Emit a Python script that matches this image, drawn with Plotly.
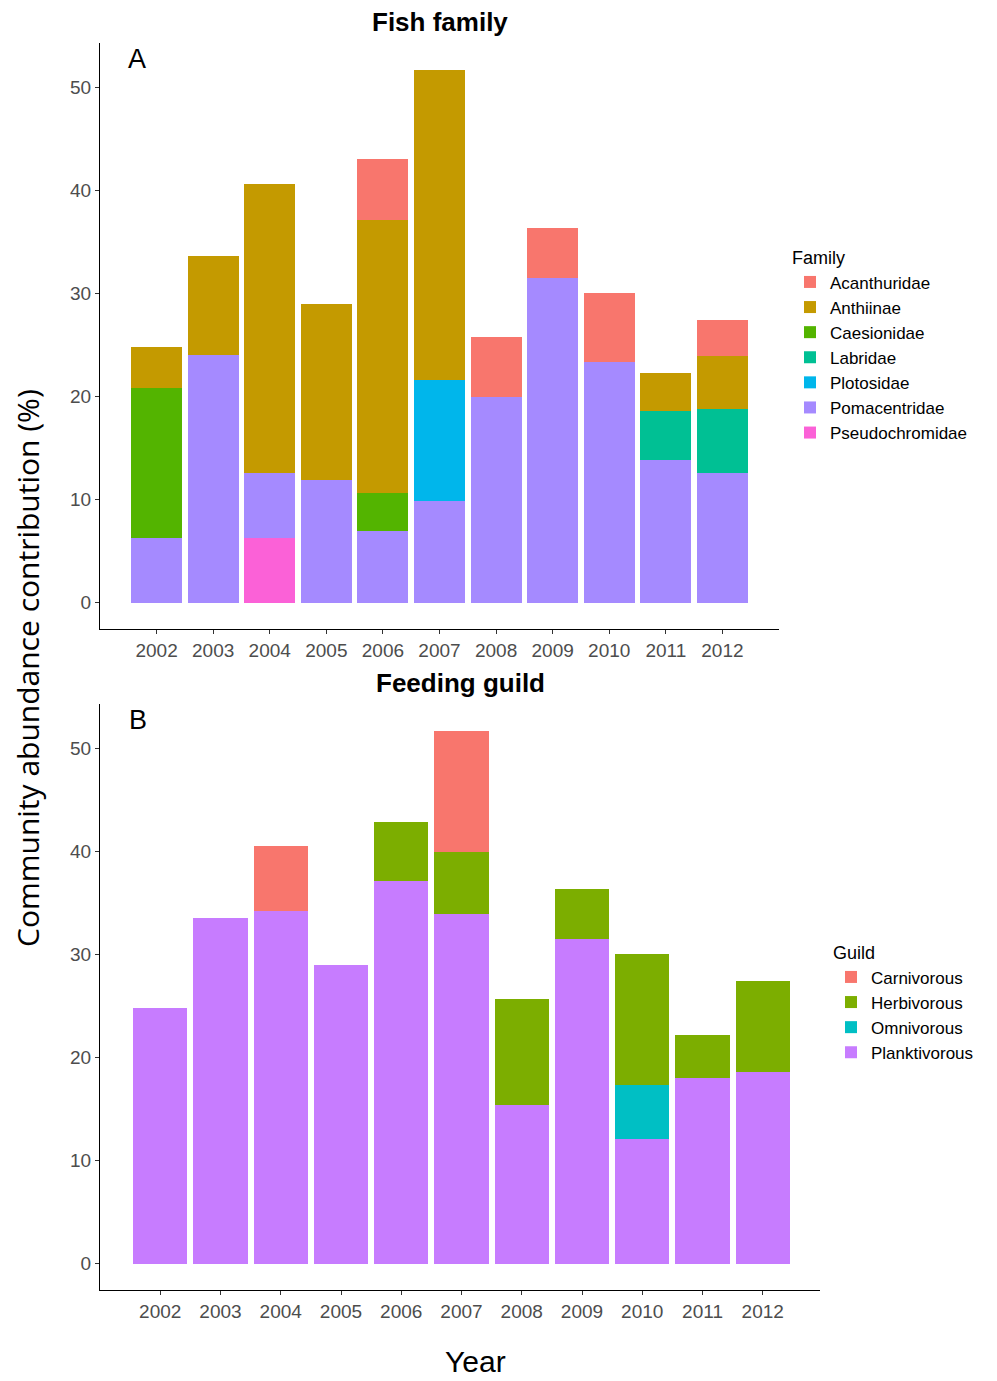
import plotly.graph_objects as go

years = ["2002", "2003", "2004", "2005", "2006", "2007", "2008", "2009", "2010", "2011", "2012"]

# Panel A: Fish family (segment heights, %)
acanthuridae    = [0, 0, 0, 0, 5.9, 0, 5.75, 4.9, 6.65, 0, 3.55]
anthiinae       = [4.05, 9.6, 28.0, 17.1, 26.5, 30.1, 0, 0, 0, 3.66, 5.1]
caesionidae     = [14.5, 0, 0, 0, 3.6, 0, 0, 0, 0, 0, 0]
labridae        = [0, 0, 0, 0, 0, 0, 0, 0, 0, 4.8, 6.2]
plotosidae      = [0, 0, 0, 0, 0, 11.7, 0, 0, 0, 0, 0]
pomacentridae   = [6.3, 24.0, 6.3, 11.9, 7.0, 9.9, 20.0, 31.5, 23.4, 13.8, 12.6]
pseudochromidae = [0, 0, 6.3, 0, 0, 0, 0, 0, 0, 0, 0]

# Panel B: Feeding guild (segment heights, %)
carnivorous  = [0, 0, 6.3, 0, 0, 11.8, 0, 0, 0, 0, 0]
herbivorous  = [0, 0, 0, 0, 5.8, 6.0, 10.3, 4.85, 12.7, 4.2, 8.8]
omnivorous   = [0, 0, 0, 0, 0, 0, 0, 0, 5.2, 0, 0]
planktivorous = [24.8, 33.5, 34.2, 29.0, 37.1, 33.9, 15.4, 31.5, 12.1, 18.0, 18.6]

FONT = "Liberation Sans, Arial, sans-serif"
W, H = 997, 1381

fig = go.Figure()

family_series = [  # bottom to top
    ("Pseudochromidae", pseudochromidae, "#FB61D7"),
    ("Pomacentridae", pomacentridae, "#A58AFF"),
    ("Plotosidae", plotosidae, "#00B6EB"),
    ("Labridae", labridae, "#00C094"),
    ("Caesionidae", caesionidae, "#53B400"),
    ("Anthiinae", anthiinae, "#C49A00"),
    ("Acanthuridae", acanthuridae, "#F8766D"),
]
for name, vals, col in family_series:
    fig.add_trace(go.Bar(x=years, y=vals, name=name, marker=dict(color=col, line=dict(width=0)),
                         xaxis="x", yaxis="y", legend="legend"))

guild_series = [
    ("Planktivorous", planktivorous, "#C77CFF"),
    ("Omnivorous", omnivorous, "#00BFC4"),
    ("Herbivorous", herbivorous, "#7CAE00"),
    ("Carnivorous", carnivorous, "#F8766D"),
]
for name, vals, col in guild_series:
    fig.add_trace(go.Bar(x=years, y=vals, name=name, marker=dict(color=col, line=dict(width=0)),
                         xaxis="x2", yaxis="y2", legend="legend2"))

def px(x):
    return x / W

def py(y):
    return 1 - y / H

axis_common = dict(showline=True, linecolor="black", linewidth=1, showgrid=False, zeroline=False,
                   ticks="outside", ticklen=4, tickcolor="#333333",
                   tickfont=dict(family=FONT, size=19, color="#4D4D4D"), mirror=False)

legend_common = dict(xanchor="left", yanchor="top", traceorder="reversed",
                     font=dict(size=17, family=FONT), itemwidth=30, tracegroupgap=0,
                     bgcolor="rgba(0,0,0,0)")

fig.update_layout(
    width=W, height=H,
    margin=dict(l=0, r=0, t=0, b=0),
    plot_bgcolor="white", paper_bgcolor="white",
    barmode="stack", bargap=0.1,
    font=dict(family=FONT, color="black"),
    xaxis=dict(domain=[px(100), px(779)], anchor="y", type="category", range=[-1.0, 11.0], **axis_common),
    yaxis=dict(domain=[py(629), py(43)], anchor="x", range=[-2.55, 54.3], tickvals=[0, 10, 20, 30, 40, 50], **axis_common),
    xaxis2=dict(domain=[px(100), px(820)], anchor="y2", type="category", range=[-1.0, 10.95], **axis_common),
    yaxis2=dict(domain=[py(1290), py(704)], anchor="x2", range=[-2.55, 54.3], tickvals=[0, 10, 20, 30, 40, 50], **axis_common),
    legend=dict(x=px(790), y=py(241), title=dict(text="Family", font=dict(size=18, family=FONT)), **legend_common),
    legend2=dict(x=px(831), y=py(936), title=dict(text="Guild", font=dict(size=18, family=FONT)), **legend_common),
    showlegend=True,
)

annotations = [
    dict(text="<b>Fish family</b>", x=px(440), y=py(22), font=dict(size=26)),
    dict(text="<b>Feeding guild</b>", x=px(460), y=py(683), font=dict(size=26)),
    dict(text="A", x=px(137), y=py(59), font=dict(size=27)),
    dict(text="B", x=px(138), y=py(720), font=dict(size=27)),
    dict(text="Year", x=px(475), y=py(1361), font=dict(size=30)),
    dict(text="Community abundance contribution (%)", x=px(27), y=py(668), textangle=-90,
         font=dict(size=30, family="Open Sans, sans-serif")),
]
for a in annotations:
    a.update(xref="paper", yref="paper", showarrow=False, xanchor="center", yanchor="middle")
    a["font"].setdefault("family", FONT)
    a["font"].update(color="black")
fig.update_layout(annotations=annotations)

fig.write_html("out.html", config={"displayModeBar": False},
               post_script="document.body.style.margin='0';")
